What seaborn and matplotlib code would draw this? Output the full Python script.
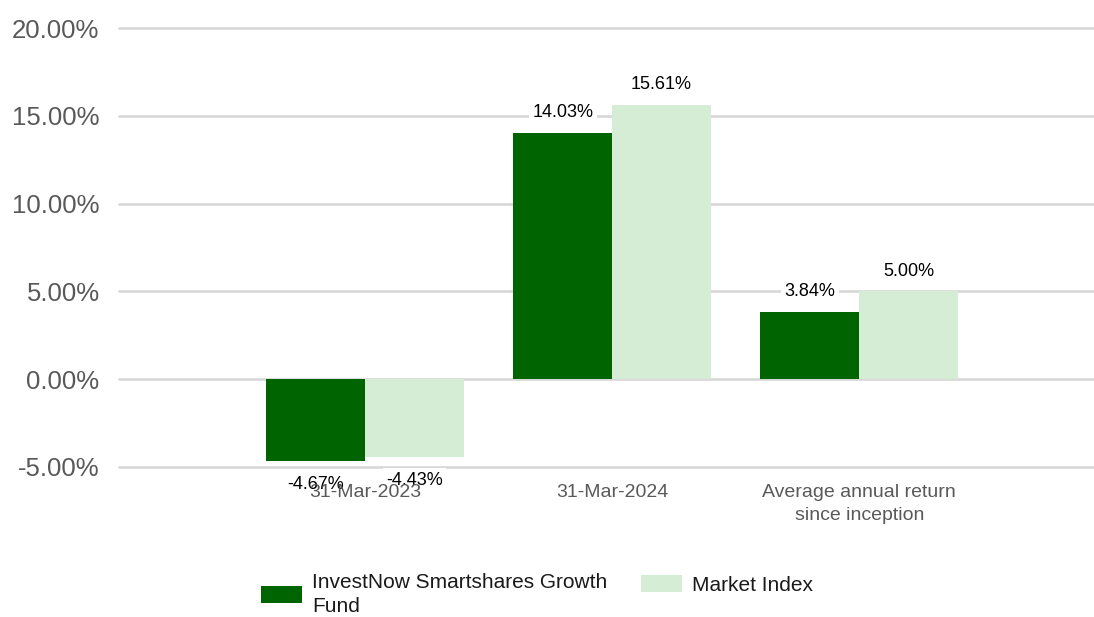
import numpy as np
import pandas as pd
import matplotlib
matplotlib.use("Agg")
import matplotlib.pyplot as plt
from matplotlib.patches import Patch
import seaborn as sns

# ---- data ----
categories = ["31-Mar-2023", "31-Mar-2024", "Average annual return\nsince inception"]
series_names = ["InvestNow Smartshares Growth\nFund", "Market Index"]
fund_values = [-4.67, 14.03, 3.84]
index_values = [-4.43, 15.61, 5.00]
y_ticks = [-5, 0, 5, 10, 15, 20]

colors = ["#006400", "#d4edd4"]

df = pd.DataFrame({
    "period": categories * 2,
    "series": [series_names[0]] * 3 + [series_names[1]] * 3,
    "value": fund_values + index_values,
})

sns.set_style("white")
plt.rcParams["font.family"] = ["Liberation Sans", "DejaVu Sans"]

fig = plt.figure(figsize=(10.94, 6.17), dpi=100)
ax = fig.add_axes([119 / 1094, 1 - 467 / 617, 1 - 119 / 1094, (467 - 28) / 617])

sns.barplot(data=df, x="period", y="value", hue="series", order=categories,
            hue_order=series_names, palette=colors, saturation=1, width=0.8,
            linewidth=0, ax=ax, legend=False)

ax.set_ylim(-5, 20)
ax.set_xlim(-0.996, 2.95)
ax.set_yticks(y_ticks)
ax.set_yticklabels([f"{v:.2f}%" for v in y_ticks])
ax.set_xlabel("")
ax.set_ylabel("")

ax.set_axisbelow(True)
ax.yaxis.grid(True, color="#d9d9d9", linewidth=2)
ax.xaxis.grid(False)
for s in ax.spines.values():
    s.set_visible(False)

ax.tick_params(axis="y", length=0, pad=14, labelsize=18.5, labelcolor="#595959")
ax.tick_params(axis="x", length=0, pad=12, labelsize=14, labelcolor="#595959")
ax.xaxis.set_zorder(5)
for t in ax.get_xticklabels():
    t.set_linespacing(1.45)
for gl in ax.get_ygridlines():
    gl.set_clip_on(False)

all_vals = [fund_values, index_values]
for cont, vals in zip(ax.containers, all_vals):
    pad_list = []
    ax.bar_label(cont, labels=[f"{v:.2f}%" for v in vals], padding=8.5,
                 fontsize=13, color="black",
                 bbox=dict(facecolor="white", edgecolor="none", pad=2.5))
# nudge the negative labels slightly lower, as in the reference
for txt in ax.texts:
    if txt.get_text().startswith("-"):
        txt.xyann = (txt.xyann[0], txt.xyann[1] - 2)

h1 = [Patch(facecolor=colors[0], edgecolor="none")]
h2 = [Patch(facecolor=colors[1], edgecolor="none")]
leg_kw = dict(loc="upper left", frameon=False, fontsize=15, borderpad=0,
              borderaxespad=0, handlelength=1.97, handleheight=0.87,
              handletextpad=0.48)
leg1 = fig.legend(h1, [series_names[0]], bbox_to_anchor=(261 / 1094, 1 - 573 / 617), **leg_kw)
leg2 = fig.legend(h2, [series_names[1]], bbox_to_anchor=(641 / 1094, 1 - 575 / 617), **leg_kw)
for leg in (leg1, leg2):
    for t in leg.get_texts():
        t.set_color("#1a1a1a")
        t.set_linespacing(1.35)

fig.savefig("out.png", dpi=100, facecolor="white")
